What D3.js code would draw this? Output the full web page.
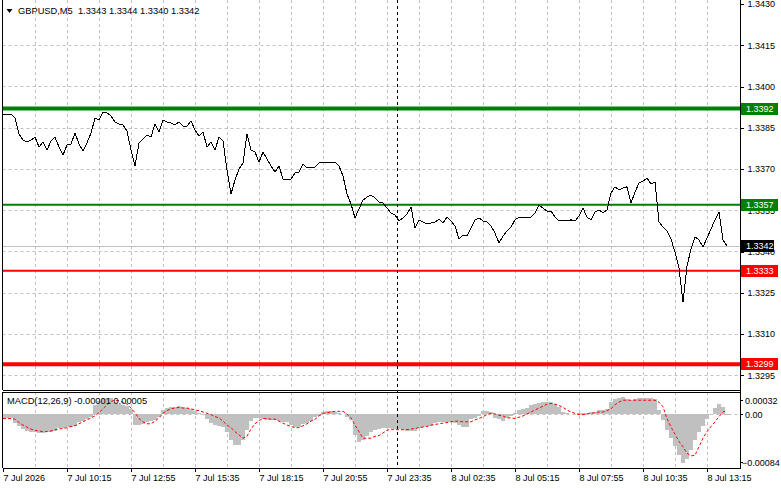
<!DOCTYPE html>
<html>
<head>
<meta charset="utf-8">
<script src="https://cdn.jsdelivr.net/npm/d3@7"></script>
<style>
    html, body { margin: 0; padding: 0; background: #fff; }
    svg { display: block; font-family: "Liberation Sans", Arial, sans-serif; }
</style>
</head>
<body>
<div id="chart"></div>
<script>
// ==========================================
// DATA (GBPUSD M5, one close every second bar)
// ==========================================

const symbolTitle = 'GBPUSD,M5  1.3343 1.3344 1.3340 1.3342';
const macdTitle = 'MACD(12,26,9) -0.00001 0.00005';

const closes = [
    1.33900, 1.33900, 1.33900, 1.33885, 1.33827, 1.33805, 1.33798, 1.33805, 1.33816, 1.33780,
    1.33798, 1.33769, 1.33802, 1.33816, 1.33780, 1.33751, 1.33787, 1.33791, 1.33831, 1.33791,
    1.33765, 1.33795, 1.33831, 1.33885, 1.33878, 1.33907, 1.33904, 1.33893, 1.33871, 1.33864,
    1.33860, 1.33838, 1.33769, 1.33711, 1.33795, 1.33809, 1.33824, 1.33816, 1.33864, 1.33835,
    1.33878, 1.33871, 1.33867, 1.33860, 1.33871, 1.33856, 1.33856, 1.33875, 1.33842, 1.33820,
    1.33835, 1.33780, 1.33798, 1.33769, 1.33816, 1.33802, 1.33696, 1.33609, 1.33660, 1.33700,
    1.33722, 1.33827, 1.33769, 1.33762, 1.33725, 1.33762, 1.33736, 1.33711, 1.33689, 1.33711,
    1.33664, 1.33660, 1.33664, 1.33685, 1.33689, 1.33718, 1.33704, 1.33707, 1.33707, 1.33722,
    1.33722, 1.33722, 1.33725, 1.33725, 1.33711, 1.33675, 1.33609, 1.33573, 1.33522, 1.33555,
    1.33587, 1.33598, 1.33605, 1.33595, 1.33580, 1.33576, 1.33558, 1.33540, 1.33533, 1.33511,
    1.33522, 1.33536, 1.33562, 1.33485, 1.33515, 1.33507, 1.33500, 1.33504, 1.33507, 1.33518,
    1.33504, 1.33525, 1.33511, 1.33493, 1.33445, 1.33460, 1.33456, 1.33485, 1.33515, 1.33522,
    1.33511, 1.33507, 1.33493, 1.33467, 1.33431, 1.33456, 1.33475, 1.33489, 1.33515, 1.33525,
    1.33525, 1.33525, 1.33525, 1.33540, 1.33569, 1.33558, 1.33547, 1.33547, 1.33525, 1.33511,
    1.33511, 1.33511, 1.33515, 1.33511, 1.33529, 1.33558, 1.33525, 1.33515, 1.33544, 1.33551,
    1.33540, 1.33551, 1.33613, 1.33635, 1.33624, 1.33631, 1.33635, 1.33576, 1.33616, 1.33649,
    1.33656, 1.33667, 1.33645, 1.33653, 1.33507, 1.33489, 1.33475, 1.33445, 1.33398, 1.33340,
    1.33216, 1.33347, 1.33409, 1.33453, 1.33442, 1.33416, 1.33449, 1.33482, 1.33515, 1.33544,
    1.33442, 1.33420
];

const macdHist = [
    -0.00006, -0.00006, -0.00006, -0.00014, -0.00018, -0.00023, -0.00026, -0.00027, -0.00027, -0.00029,
    -0.00029, -0.00027, -0.00027, -0.00026, -0.00021, -0.00021, -0.00020, -0.00020, -0.00018, -0.00012,
    -0.00011, -0.00008, -0.00005, 0.00014, 0.00020, 0.00023, 0.00024, 0.00024, 0.00018, 0.00015,
    0.00014, 0.00012, 0.00008, -0.00017, -0.00017, -0.00015, -0.00012, -0.00011, -0.00009, -0.00005,
    0.00006, 0.00009, 0.00011, 0.00011, 0.00012, 0.00011, 0.00009, 0.00008, 0.00005, 0.00001,
    -0.00002, -0.00008, -0.00014, -0.00017, -0.00018, -0.00020, -0.00027, -0.00040, -0.00047, -0.00047,
    -0.00040, -0.00024, -0.00011, -0.00006, -0.00006, -0.00008, -0.00009, -0.00009, -0.00009, -0.00011,
    -0.00012, -0.00012, -0.00017, -0.00020, -0.00020, -0.00015, -0.00014, -0.00011, -0.00005, -0.00003,
    0.00003, 0.00005, 0.00005, 0.00003, 0.00002, 0.00000, -0.00005, -0.00009, -0.00032, -0.00043,
    -0.00040, -0.00034, -0.00027, -0.00024, -0.00023, -0.00021, -0.00021, -0.00021, -0.00023, -0.00023,
    -0.00024, -0.00026, -0.00026, -0.00026, -0.00021, -0.00020, -0.00018, -0.00018, -0.00014, -0.00012,
    -0.00012, -0.00012, -0.00012, -0.00014, -0.00017, -0.00020, -0.00020, -0.00008, -0.00006, -0.00003,
    0.00005, 0.00005, 0.00003, -0.00006, -0.00008, -0.00011, -0.00006, -0.00003, 0.00002, 0.00006,
    0.00008, 0.00009, 0.00014, 0.00015, 0.00017, 0.00018, 0.00018, 0.00018, 0.00015, 0.00011,
    0.00003, 0.00002, 0.00000, 0.00000, 0.00002, 0.00002, 0.00002, 0.00003, 0.00003, 0.00006,
    0.00006, 0.00008, 0.00018, 0.00023, 0.00024, 0.00026, 0.00023, 0.00021, 0.00023, 0.00024,
    0.00024, 0.00024, 0.00024, 0.00023, 0.00006, -0.00009, -0.00024, -0.00037, -0.00049, -0.00063,
    -0.00075, -0.00069, -0.00055, -0.00040, -0.00027, -0.00018, -0.00008, -0.00002, 0.00009, 0.00015,
    0.00011, -0.00001
];

const macdSignal = [
    -0.00007, -0.00007, -0.00007, -0.00008, -0.00013, -0.00017, -0.00020, -0.00023, -0.00025, -0.00026,
    -0.00027, -0.00027, -0.00026, -0.00024, -0.00023, -0.00022, -0.00021, -0.00019, -0.00018, -0.00015,
    -0.00012, -0.00009, -0.00006, -0.00003, 0.00002, 0.00008, 0.00014, 0.00019, 0.00021, 0.00020,
    0.00018, 0.00015, 0.00009, 0.00002, -0.00007, -0.00012, -0.00015, -0.00015, -0.00011, -0.00006,
    0.00001, 0.00005, 0.00008, 0.00009, 0.00010, 0.00009, 0.00009, 0.00008, 0.00006, 0.00005,
    0.00003, 0.00001, -0.00001, -0.00004, -0.00006, -0.00011, -0.00017, -0.00021, -0.00027, -0.00032,
    -0.00037, -0.00034, -0.00023, -0.00015, -0.00010, -0.00007, -0.00007, -0.00008, -0.00008, -0.00011,
    -0.00014, -0.00017, -0.00019, -0.00021, -0.00021, -0.00018, -0.00015, -0.00011, -0.00008, -0.00003,
    0.00001, 0.00002, 0.00003, 0.00004, 0.00004, 0.00004, 0.00000, -0.00006, -0.00017, -0.00027,
    -0.00037, -0.00037, -0.00037, -0.00034, -0.00033, -0.00029, -0.00025, -0.00023, -0.00024, -0.00024,
    -0.00024, -0.00024, -0.00023, -0.00022, -0.00021, -0.00020, -0.00019, -0.00017, -0.00016, -0.00015,
    -0.00014, -0.00013, -0.00012, -0.00011, -0.00011, -0.00012, -0.00012, -0.00012, -0.00009, -0.00007,
    -0.00004, -0.00001, 0.00001, 0.00000, -0.00002, -0.00003, -0.00006, -0.00006, -0.00007, -0.00005,
    -0.00003, 0.00000, 0.00003, 0.00006, 0.00009, 0.00012, 0.00015, 0.00016, 0.00015, 0.00013,
    0.00010, 0.00006, 0.00003, 0.00001, -0.00001, -0.00001, 0.00000, 0.00001, 0.00002, 0.00003,
    0.00003, 0.00005, 0.00008, 0.00014, 0.00018, 0.00021, 0.00021, 0.00021, 0.00021, 0.00021,
    0.00021, 0.00021, 0.00021, 0.00021, 0.00018, 0.00011, -0.00007, -0.00020, -0.00031, -0.00042,
    -0.00050, -0.00060, -0.00064, -0.00063, -0.00050, -0.00037, -0.00027, -0.00019, -0.00012, -0.00004,
    0.00003, 0.00005
];

const timeLabels = [
    '7 Jul 2026', '7 Jul 10:15', '7 Jul 12:55', '7 Jul 15:35', '7 Jul 18:15', '7 Jul 20:55',
    '7 Jul 23:35', '8 Jul 02:35', '8 Jul 05:15', '8 Jul 07:55', '8 Jul 10:35', '8 Jul 13:15'
];
const priceTicks = [1.3430, 1.3415, 1.3400, 1.3385, 1.3370, 1.3355, 1.3340, 1.3325, 1.3310, 1.3295];
const macdTicks = [0.00032, 0.00, -0.00084];
const supportLevels = [1.3333, 1.3299];
const resistanceLevels = [1.3392, 1.3357];
const lastPrice = 1.3342;
const daySeparatorBar = 197;

// ==========================================
// LAYOUT
// ==========================================

const W = 781, H = 489;
const LEFT = 2.5, RIGHT = 740;
const MAIN = { top: 0, bottom: 390 };
const SUB = { top: 392, bottom: 468 };
const BARS_PER_SAMPLE = 2;
const BARS_PER_LABEL = 32;
const BARS_PER_GRID = 16;
const GRID = '#c0c0c0';
const FONT = 9;

const svg = d3.select('#chart').append('svg')
    .attr('width', W)
    .attr('height', H);

const xScale = d3.scaleLinear().domain([0, 368]).range([3, 739]);
const yPrice = d3.scaleLinear().domain([1.3430, 1.3295]).range([4, 375.25]);
const yMacd = d3.scaleLinear().domain([0.00032, -0.00084]).range([393, 469]);

const crisp = v => Math.round(v) + 0.5;
const sampleBar = i => i * BARS_PER_SAMPLE;

svg.append('rect').attr('width', W).attr('height', H).attr('fill', '#fff');

const defs = svg.append('defs');
defs.append('clipPath').attr('id', 'clip-main').append('rect')
    .attr('x', 3).attr('y', MAIN.top).attr('width', RIGHT - 3).attr('height', MAIN.bottom - MAIN.top);
defs.append('clipPath').attr('id', 'clip-sub').append('rect')
    .attr('x', 3).attr('y', SUB.top + 1).attr('width', RIGHT - 3).attr('height', SUB.bottom - SUB.top - 1);

// ==========================================
// GRID
// ==========================================

function drawGrid() {
    const g = svg.append('g')
        .attr('stroke', GRID)
        .attr('stroke-width', 1)
        .attr('stroke-dasharray', '3,3');

    const gridBars = d3.range(BARS_PER_GRID, 360, BARS_PER_GRID);
    gridBars.forEach(b => {
        const x = crisp(xScale(b));
        g.append('line').attr('x1', x).attr('x2', x).attr('y1', MAIN.top).attr('y2', MAIN.bottom);
        g.append('line').attr('x1', x).attr('x2', x).attr('y1', SUB.top).attr('y2', SUB.bottom);
    });

    priceTicks.slice(1).forEach(p => {
        const y = crisp(yPrice(p));
        g.append('line').attr('x1', LEFT).attr('x2', RIGHT).attr('y1', y).attr('y2', y);
    });

    // zero level of the MACD window
    const y0 = crisp(yMacd(0));
    g.append('line').attr('x1', LEFT).attr('x2', RIGHT).attr('y1', y0).attr('y2', y0);
}

// ==========================================
// MAIN WINDOW
// ==========================================

function drawLevels() {
    const g = svg.append('g');

    const lineAt = (p, color, width) => {
        const y = yPrice(p);
        g.append('line')
            .attr('x1', LEFT).attr('x2', RIGHT)
            .attr('y1', y).attr('y2', y)
            .attr('stroke', color)
            .attr('stroke-width', width);
    };

    // bid line
    const yl = crisp(yPrice(lastPrice));
    g.append('line').attr('x1', LEFT).attr('x2', RIGHT).attr('y1', yl).attr('y2', yl)
        .attr('stroke', GRID).attr('stroke-width', 1);

    lineAt(resistanceLevels[0], '#008000', 4);
    lineAt(resistanceLevels[1], '#008000', 2);
    lineAt(supportLevels[0], '#ff0000', 2);
    lineAt(supportLevels[1], '#ff0000', 4);
}

function drawPrice() {
    const line = d3.line()
        .x((_, i) => xScale(sampleBar(i)))
        .y(d => yPrice(d));

    svg.append('path')
        .datum(closes)
        .attr('clip-path', 'url(#clip-main)')
        .attr('fill', 'none')
        .attr('stroke', '#000')
        .attr('stroke-width', 1)
        .attr('shape-rendering', 'crispEdges')
        .attr('d', line);
}

// ==========================================
// MACD WINDOW
// ==========================================

function drawMacd() {
    const g = svg.append('g').attr('clip-path', 'url(#clip-sub)');
    const y0 = yMacd(0);

    g.selectAll('rect.hist')
        .data(macdHist)
        .enter().append('rect')
        .attr('class', 'hist')
        .attr('x', (_, i) => xScale(sampleBar(i)) - 2)
        .attr('width', 4)
        .attr('y', d => Math.min(y0, yMacd(d)))
        .attr('height', d => Math.abs(yMacd(d) - y0))
        .attr('fill', GRID)
        .attr('shape-rendering', 'crispEdges');

    const line = d3.line()
        .x((_, i) => xScale(sampleBar(i)))
        .y(d => yMacd(d));

    g.append('path')
        .datum(macdSignal)
        .attr('fill', 'none')
        .attr('stroke', '#ff0000')
        .attr('stroke-width', 1)
        .attr('stroke-dasharray', '3,2')
        .attr('d', line);
}

// ==========================================
// FRAMES, SEPARATOR, AXES
// ==========================================

function drawFrames() {
    const g = svg.append('g')
        .attr('fill', 'none')
        .attr('stroke', '#000')
        .attr('stroke-width', 1)
        .attr('shape-rendering', 'crispEdges');

    g.append('line').attr('x1', LEFT).attr('x2', LEFT).attr('y1', MAIN.top).attr('y2', MAIN.bottom);
    g.append('line').attr('x1', LEFT).attr('x2', RIGHT).attr('y1', crisp(MAIN.bottom)).attr('y2', crisp(MAIN.bottom));
    g.append('line').attr('x1', LEFT).attr('x2', RIGHT).attr('y1', crisp(SUB.top)).attr('y2', crisp(SUB.top));
    g.append('line').attr('x1', LEFT).attr('x2', LEFT).attr('y1', SUB.top).attr('y2', SUB.bottom);
    g.append('line').attr('x1', LEFT).attr('x2', RIGHT + 0.5).attr('y1', crisp(SUB.bottom)).attr('y2', crisp(SUB.bottom));
    g.append('line').attr('x1', crisp(RIGHT)).attr('x2', crisp(RIGHT)).attr('y1', 0).attr('y2', SUB.bottom + 1);

    // day separator (8 Jul 00:00)
    const xs = crisp(xScale(daySeparatorBar));
    svg.append('line')
        .attr('x1', xs).attr('x2', xs)
        .attr('y1', MAIN.top).attr('y2', SUB.bottom)
        .attr('stroke', '#000')
        .attr('stroke-width', 1)
        .attr('stroke-dasharray', '3,3');
}

function styleAxis(sel) {
    sel.select('.domain').remove();
    sel.attr('font-family', '"Liberation Sans", Arial, sans-serif').attr('font-size', FONT);
    sel.selectAll('line').attr('stroke', '#000').attr('shape-rendering', 'crispEdges');
    sel.selectAll('text').attr('fill', '#000');
}

function drawAxes() {
    const priceAxis = d3.axisRight(yPrice)
        .tickValues(priceTicks)
        .tickSize(3)
        .tickPadding(4)
        .tickFormat(d3.format('.4f'));

    svg.append('g')
        .attr('transform', `translate(${crisp(RIGHT)},0)`)
        .call(priceAxis)
        .call(styleAxis);

    // MACD scale labels sit inside the window edges
    const g = svg.append('g')
        .attr('font-family', '"Liberation Sans", Arial, sans-serif')
        .attr('font-size', FONT);
    macdTicks.forEach(v => {
        const y = Math.round(Math.min(Math.max(yMacd(v), 400), 462)) + 0.5;
        g.append('line').attr('x1', RIGHT).attr('x2', RIGHT + 3).attr('y1', y).attr('y2', y)
            .attr('stroke', '#000');
        g.append('text')
            .attr('x', v < 0 ? RIGHT + 2 : RIGHT + 5)
            .attr('y', y)
            .attr('dy', '0.35em')
            .text(v === 0 ? '0.00' : d3.format('.5f')(v));
    });

    const labelBars = timeLabels.map((_, i) => i * BARS_PER_LABEL);
    const timeAxis = d3.axisBottom(xScale)
        .tickValues(labelBars)
        .tickSize(3)
        .tickPadding(3)
        .tickFormat((_, i) => timeLabels[i]);

    svg.append('g')
        .attr('transform', `translate(0,${crisp(SUB.bottom)})`)
        .call(timeAxis)
        .call(styleAxis)
        .selectAll('text')
        .attr('text-anchor', 'start');
}

function drawPriceTags() {
    const g = svg.append('g')
        .attr('font-family', '"Liberation Sans", Arial, sans-serif')
        .attr('font-size', FONT);

    const tag = (p, fill, w) => {
        const y = Math.round(yPrice(p));
        g.append('rect')
            .attr('x', RIGHT + 1).attr('y', y - 6)
            .attr('width', w).attr('height', 12)
            .attr('fill', fill);
        g.append('text')
            .attr('x', RIGHT + 6).attr('y', y)
            .attr('dy', '0.35em')
            .attr('fill', '#fff')
            .text(d3.format('.4f')(p));
    };

    tag(resistanceLevels[0], '#008000', 37);
    tag(resistanceLevels[1], '#008000', 37);
    tag(lastPrice, '#000', 33);
    tag(supportLevels[0], '#ff0000', 37);
    tag(supportLevels[1], '#ff0000', 37);
}

function drawTitles() {
    svg.append('path')
        .attr('d', 'M6.5,9 L12.5,9 L9.5,13 Z')
        .attr('fill', '#000');

    svg.append('text')
        .attr('x', 18).attr('y', 14)
        .attr('font-size', FONT + 0.3)
        .style('white-space', 'pre')
        .text(symbolTitle);

    svg.append('text')
        .attr('x', 7).attr('y', 404)
        .attr('font-size', FONT + 0.3)
        .text(macdTitle);
}

drawGrid();
drawLevels();
drawPrice();
drawMacd();
drawFrames();
drawAxes();
drawPriceTags();
drawTitles();
</script>
</body>
</html>
